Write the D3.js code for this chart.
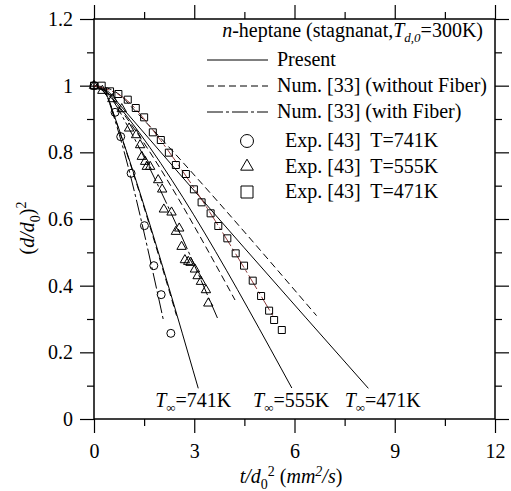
<!DOCTYPE html>
<html>
<meta charset="utf-8">
<style>
  body { margin: 0; background: #fff; }
  text { font-family: 'Liberation Serif', 'Times New Roman', serif; font-size: 20px; fill: #000; }
  .axis path { display: none; }
  .axis line { stroke: #000; stroke-width: 1.2; }
  .frame { fill: none; stroke: #000; stroke-width: 1.5; }
  .curve { fill: none; stroke: #000; stroke-width: 1; }
  .mark { fill: none; stroke: #000; stroke-width: 1; }
</style>
<body>
<script src="https://cdn.jsdelivr.net/npm/d3@7"></script>
<script>

// ticks
var xTicks = [0, 3, 6, 9, 12];
var xMinor = [1.5, 4.5, 7.5, 10.5];
var yTicks = [0, 0.2, 0.4, 0.6, 0.8, 1, 1.2];
var yMinor = [0.1, 0.3, 0.5, 0.7, 0.9, 1.1];

// experiments (Exp. [43])
var exp741 = [[0, 1], [0.63, 0.92], [0.80, 0.847], [1.11, 0.737], [1.51, 0.58], [1.79, 0.46], [2.01, 0.373], [2.30, 0.257]];
var exp555 = [[0, 1], [0.25, 0.985], [0.55, 0.96], [0.83, 0.93], [1.05, 0.872], [1.26, 0.852], [1.38, 0.822], [1.43, 0.787],
  [1.53, 0.772], [1.58, 0.757], [1.68, 0.757], [1.92, 0.717], [2.04, 0.689], [2.09, 0.629], [2.32, 0.62], [2.45, 0.562],
  [2.55, 0.572], [2.62, 0.517], [2.72, 0.477], [2.82, 0.472], [2.89, 0.469], [3.02, 0.449], [3.10, 0.429], [3.20, 0.412],
  [3.35, 0.387], [3.42, 0.347]];
var exp471 = [[0, 1], [0.23, 1.0], [0.48, 0.983], [0.73, 0.975], [1.01, 0.958], [1.25, 0.933], [1.50, 0.905], [1.76, 0.86],
  [2.0, 0.837], [2.24, 0.799], [2.45, 0.762], [2.75, 0.735], [2.99, 0.689], [3.22, 0.65], [3.49, 0.617], [3.72, 0.579],
  [3.99, 0.542], [4.24, 0.497], [4.49, 0.46], [4.75, 0.415], [5.0, 0.369], [5.24, 0.325], [5.39, 0.297], [5.62, 0.267]];

// Present model
var present741 = [[0, 1], [0.2, 0.99], [0.4, 0.968], [0.6, 0.912], [3.12, 0.092]];
var present555 = [[0, 1], [0.2, 0.993], [0.4, 0.98], [0.7, 0.944], [5.92, 0.093]];
var present471 = [[0, 1], [0.2, 0.995], [0.45, 0.98], [0.75, 0.945], [8.21, 0.092]];

// Num. [33] without fiber
var noFiber741 = [[0, 1], [0.2, 0.99], [0.4, 0.966], [0.6, 0.91], [2.47, 0.31]];
var noFiber555 = [[0, 1], [0.2, 0.993], [0.4, 0.978], [0.7, 0.94], [4.22, 0.357]];
var noFiber471 = [[0, 1], [0.4, 0.993], [0.8, 0.97], [1.2, 0.928], [6.66, 0.31]];

// Num. [33] with fiber
var fiber741 = [[0, 1], [0.2, 0.99], [0.4, 0.965], [0.6, 0.905], [2.07, 0.30]];
var fiber555 = [[0, 1], [0.3, 0.985], [0.6, 0.95], [1.0, 0.88], [3.72, 0.297]];
var fiber471 = [[0, 1], [0.5, 0.985], [1.0, 0.955], [1.5, 0.9], [2.0, 0.835], [5.35, 0.31]];

// T-infinity labels (data coords of left end)
var tempLabels = ['741K', '555K', '471K'];
var tempLabelX = [1.83, 4.76, 7.5];
var tempLabelY = 0.036;

var legendLines = ['Present', 'Num. [33] (without Fiber)', 'Num. [33] (with Fiber)'];
var legendExp = ['Exp. [43]  T=741K', 'Exp. [43]  T=555K', 'Exp. [43]  T=471K'];

var width = 511, height = 491;

var x = d3.scaleLinear().domain([0, 12]).range([94, 495]);
var y = d3.scaleLinear().domain([0, 1.2]).range([419, 19]);

var svg = d3.select('body').append('svg')
  .attr('width', width)
  .attr('height', height);

// axes (ticks outward on all four sides)
function addAxis(axisFn, scale, major, minor, tr, labels) {
  svg.append('g').attr('class', 'axis').attr('transform', tr)
    .call(axisFn(scale).tickValues(minor).tickSize(7).tickSizeOuter(0).tickFormat(''));
  var g = svg.append('g').attr('class', 'axis').attr('transform', tr)
    .call(axisFn(scale).tickValues(major).tickSize(14).tickSizeOuter(0)
      .tickPadding(axisFn === d3.axisBottom ? 11 : 7)
      .tickFormat(labels ? d3.format('~g') : ''));
  g.attr('font-family', null).attr('font-size', null);
}
addAxis(d3.axisBottom, x, xTicks, xMinor, 'translate(0,419)', true);
addAxis(d3.axisTop, x, xTicks, xMinor, 'translate(0,19)', false);
addAxis(d3.axisLeft, y, yTicks, yMinor, 'translate(94,0)', true);
addAxis(d3.axisRight, y, yTicks, yMinor, 'translate(495,0)', false);

svg.append('rect').attr('class', 'frame')
  .attr('x', x(0)).attr('y', y(1.2))
  .attr('width', x(12) - x(0)).attr('height', y(0) - y(1.2));

// curves
var line = d3.line()
  .x(function(d) { return x(d[0]); })
  .y(function(d) { return y(d[1]); })
  .curve(d3.curveMonotoneX);

var dashPat = '7,4';
var dotPat = '16,3,3,3';

[present741, present555, present471].forEach(function(s) {
  svg.append('path').attr('class', 'curve').attr('d', line(s));
});
[noFiber741, noFiber555, noFiber471].forEach(function(s) {
  svg.append('path').attr('class', 'curve').attr('d', line(s)).style('stroke-dasharray', dashPat);
});
[fiber741, fiber555].forEach(function(s) {
  svg.append('path').attr('class', 'curve').attr('d', line(s)).style('stroke-dasharray', dotPat);
});
svg.append('path').attr('class', 'curve').attr('d', line(fiber471))
  .style('stroke', '#8b3a3a').style('stroke-dasharray', dotPat);

// markers
var tri = d3.symbol().type(d3.symbolTriangle).size(38);
var sq = d3.symbol().type(d3.symbolSquare).size(49);

svg.append('g').selectAll('circle').data(exp741).enter().append('circle')
  .attr('class', 'mark')
  .attr('cx', function(d) { return x(d[0]); })
  .attr('cy', function(d) { return y(d[1]); })
  .attr('r', 4);
svg.append('g').selectAll('path').data(exp555).enter().append('path')
  .attr('class', 'mark')
  .attr('transform', function(d) { return 'translate(' + x(d[0]) + ',' + y(d[1]) + ')'; })
  .attr('d', tri);
svg.append('g').selectAll('path').data(exp471).enter().append('path')
  .attr('class', 'mark')
  .attr('transform', function(d) { return 'translate(' + x(d[0]) + ',' + y(d[1]) + ')'; })
  .attr('d', sq);

// T_inf labels
tempLabels.forEach(function(t, i) {
  var tx = svg.append('text')
    .attr('x', x(tempLabelX[i]))
    .attr('y', y(tempLabelY));
  tx.append('tspan').style('font-style', 'italic').text('T');
  tx.append('tspan').attr('dy', 5).style('font-size', '13px').text('\u221e');
  tx.append('tspan').attr('dy', -5).text('=' + t);
});

// axis titles
var xt = svg.append('text').attr('x', 291).attr('y', 483).attr('text-anchor', 'middle');
xt.append('tspan').style('font-style', 'italic').text('t/d');
xt.append('tspan').attr('dy', 6).style('font-size', '14px').text('0');
xt.append('tspan').attr('dy', -13).style('font-size', '14px').text('2');
xt.append('tspan').attr('dy', 7).text(' (');
xt.append('tspan').style('font-style', 'italic').text('mm');
xt.append('tspan').attr('dy', -7).style('font-size', '14px').style('font-style', 'italic').text('2');
xt.append('tspan').attr('dy', 7).style('font-style', 'italic').text('/s');
xt.append('tspan').text(')');

var yt = svg.append('text').attr('transform', 'translate(34,228) rotate(-90)').attr('text-anchor', 'middle');
yt.append('tspan').text('(');
yt.append('tspan').style('font-style', 'italic').text('d/d');
yt.append('tspan').attr('dy', 6).style('font-size', '14px').text('0');
yt.append('tspan').attr('dy', -6).text(')');
yt.append('tspan').attr('dy', -8).style('font-size', '14px').text('2');

// legend
var head = svg.append('text').attr('x', 483).attr('y', 37).attr('text-anchor', 'end');
head.append('tspan').style('font-style', 'italic').text('n');
head.append('tspan').text('-heptane (stagnanat,');
head.append('tspan').style('font-style', 'italic').text('T');
head.append('tspan').attr('dy', 5).style('font-size', '13px').style('font-style', 'italic').text('d,0');
head.append('tspan').attr('dy', -5).text('=300K)');

var lineStyles = [null, dashPat, dotPat];
var lg = svg.append('g').selectAll('g').data(legendLines).enter().append('g')
  .attr('transform', function(d, i) { return 'translate(0,' + (60 + i * 26) + ')'; });
lg.append('line').attr('class', 'curve')
  .attr('x1', 207).attr('x2', 268)
  .style('stroke-dasharray', function(d, i) { return lineStyles[i]; });
lg.append('text').attr('x', 277).attr('dy', 6).text(function(d) { return d; });

var eg = svg.append('g').selectAll('g').data(legendExp).enter().append('g')
  .attr('transform', function(d, i) { return 'translate(247,' + (141 + i * 25.5) + ')'; });
eg.append('path').attr('class', 'mark')
  .attr('d', function(d, i) {
    if (i === 0) return d3.symbol().type(d3.symbolCircle).size(Math.PI * 42)();
    if (i === 1) return d3.symbol().type(d3.symbolTriangle).size(70)();
    return d3.symbol().type(d3.symbolSquare).size(144)();
  });
eg.append('text').attr('x', 38).attr('dy', 6).style('white-space', 'pre')
  .text(function(d) { return d; });

</script>
</body>
</html>
